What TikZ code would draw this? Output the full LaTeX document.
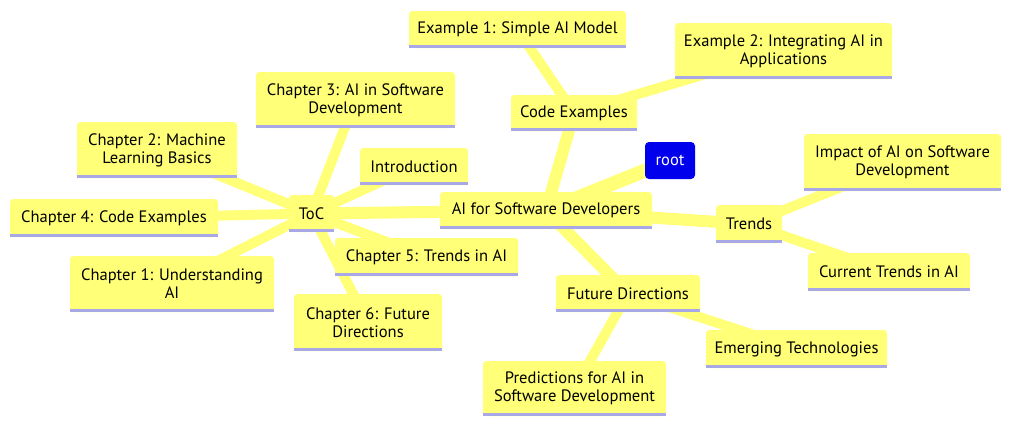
\documentclass[tikz,border=0pt]{standalone}
\usepackage{fontspec}
\setmainfont{PT Sans}
\usetikzlibrary{backgrounds}
\definecolor{mmyellow}{RGB}{255,255,120}
\definecolor{mmline}{RGB}{168,168,230}
\definecolor{mmblue}{RGB}{0,0,236}
\tikzset{
	mmnode/.style={fill=mmyellow, rounded corners=2.5pt, inner sep=0pt, align=center,
		font=\fontsize{12.4pt}{13.6pt}\selectfont},
	rootnode/.style={fill=mmblue, text=white, rounded corners=3pt, inner sep=0pt,
		font=\fontsize{12.4pt}{13.6pt}\selectfont},
	sz/.style 2 args={minimum width=#1*0.75pt, minimum height=#2*0.75pt},
	underline/.style={mmline, line width=2.6pt},
	rootedge/.style={mmyellow, line width=10.5pt},
	mainedge/.style={mmyellow, line width=9pt},
	leafedge/.style={mmyellow, line width=7.5pt}
}
\begin{document}
\begin{tikzpicture}[x=0.75pt, y=-0.75pt]
	\useasboundingbox (0,0) rectangle (1011,426);
	
	%centre
	\node (rootn) at (670, 160.5) [rootnode, sz={50}{37}]{root};
	\node (ai) at (546, 210.5) [mmnode, sz={212}{37}]{AI for Software Developers};
	
	%first level
	\node (toc) at (311.5, 213.5) [mmnode, sz={45}{37}]{ToC};
	\node (code) at (574, 113) [mmnode, sz={126}{36}]{Code Examples};
	\node (trends) at (749, 224) [mmnode, sz={66}{38}]{Trends};
	\node (future) at (628, 293.5) [mmnode, sz={144}{37}]{Future Directions};
	
	%chapters
	\node (intro) at (414, 166.5) [mmnode, sz={108}{37}]{Introduction};
	\node (chone) at (172, 284) [mmnode, sz={204}{56}]{Chapter 1: Understanding\\AI};
	\node (chtwo) at (157, 150) [mmnode, sz={160}{56}]{Chapter 2: Machine\\Learning Basics};
	\node (chthree) at (355.5, 100) [mmnode, sz={199}{56}]{Chapter 3: AI in Software\\Development};
	\node (chfour) at (114, 218) [mmnode, sz={208}{38}]{Chapter 4: Code Examples};
	\node (chfive) at (426.5, 257) [mmnode, sz={183}{38}]{Chapter 5: Trends in AI};
	\node (chsix) at (368, 322.5) [mmnode, sz={148}{57}]{Chapter 6: Future\\Directions};
	
	%code examples
	\node (exone) at (517.5, 29.5) [mmnode, sz={217}{37}]{Example 1: Simple AI Model};
	\node (extwo) at (783.5, 51) [mmnode, sz={217}{56}]{Example 2: Integrating AI in\\Applications};
	
	%trends
	\node (impact) at (902.5, 162.5) [mmnode, sz={197}{57}]{Impact of AI on Software\\Development};
	\node (current) at (889, 272) [mmnode, sz={162}{38}]{Current Trends in AI};
	
	%future directions
	\node (emerging) at (796.5, 349) [mmnode, sz={181}{38}]{Emerging Technologies};
	\node (pred) at (574.5, 388.5) [mmnode, sz={183}{55}]{Predictions for AI in\\Software Development};
	
	%bottom lines
	\foreach \n in {ai, toc, code, trends, future, intro, chone, chtwo, chthree, chfour,
		chfive, chsix, exone, extwo, impact, current, emerging, pred}{
		\draw[underline] ([yshift=1.3pt]\n.south west) -- ([yshift=1.3pt]\n.south east);
	}
	
	%edges
	\begin{scope}[on background layer]
		\draw[rootedge] (rootn.center) -- (ai.center);
		\foreach \n in {toc, code, trends, future}{
			\draw[mainedge] (ai.center) -- (\n.center);
		}
		\foreach \n in {intro, chone, chtwo, chthree, chfour, chfive, chsix}{
			\draw[leafedge] (toc.center) -- (\n.center);
		}
		\foreach \n in {exone, extwo}{
			\draw[leafedge] (code.center) -- (\n.center);
		}
		\foreach \n in {impact, current}{
			\draw[leafedge] (trends.center) -- (\n.center);
		}
		\foreach \n in {emerging, pred}{
			\draw[leafedge] (future.center) -- (\n.center);
		}
	\end{scope}
\end{tikzpicture}
\end{document}
